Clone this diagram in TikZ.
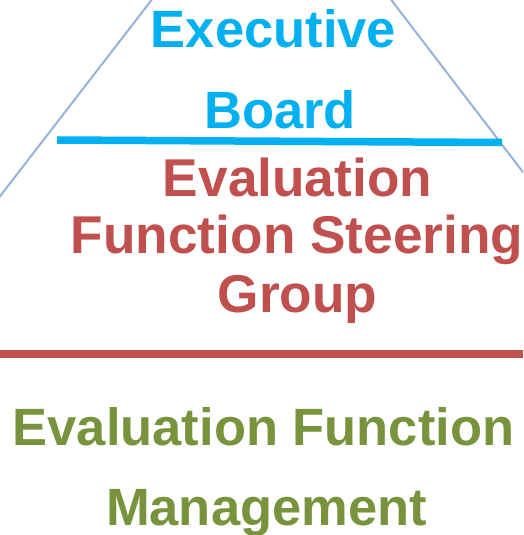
\documentclass[tikz,border=0pt]{standalone}
\usepackage{fontspec}
\setmainfont{Liberation Sans}
\usepackage{xcolor}

\definecolor{edgeblue}{RGB}{149,179,215}
\definecolor{boardblue}{RGB}{0,176,240}
\definecolor{steerred}{RGB}{192,80,77}
\definecolor{mgmtgreen}{RGB}{119,147,60}

\tikzset{
  label text/.style={anchor=base, inner sep=0pt, font=\fontsize{52.5}{60}\selectfont\bfseries},
  steer text/.style={label text, font=\fontsize{53.2}{60}\selectfont\bfseries},
  pyramid edge/.style={edgeblue, line width=2pt},
  level bar/.style={line width=7.5pt}
}

\begin{document}
\begin{tikzpicture}[x=1pt,y=-1pt]
\clip (0,0) rectangle (523,535);
% pyramid outline
\coordinate (apex) at (272,-156);
\coordinate (leftfoot) at (-60,274);
\coordinate (rightfoot) at (604,278);
\draw [pyramid edge] (leftfoot) -- (apex) -- (rightfoot);
% top level
\node [label text, boardblue] (exec) at (273.5,48) {Executive};
\node [label text, boardblue] (board) at (280,128) {Board};
\coordinate (bbl) at (57,140);
\coordinate (bbr) at (502,142.5);
\draw [level bar, boardblue] (bbl) -- (bbr);
% middle level
\node [steer text, steerred] (steer1) at (297.5,196) {Evaluation};
\node [steer text, steerred] (steer2) at (297,253) {Function Steering};
\node [steer text, steerred] (steer3) at (297.5,312) {Group};
\coordinate (rbl) at (0,354);
\coordinate (rbr) at (523,354);
\draw [level bar, steerred] (rbl) -- (rbr);
% bottom level
\node [label text, mgmtgreen] (mgmt1) at (263.5,445) {Evaluation Function};
\node [label text, mgmtgreen] (mgmt2) at (266.5,525) {Management};
\end{tikzpicture}
\end{document}
